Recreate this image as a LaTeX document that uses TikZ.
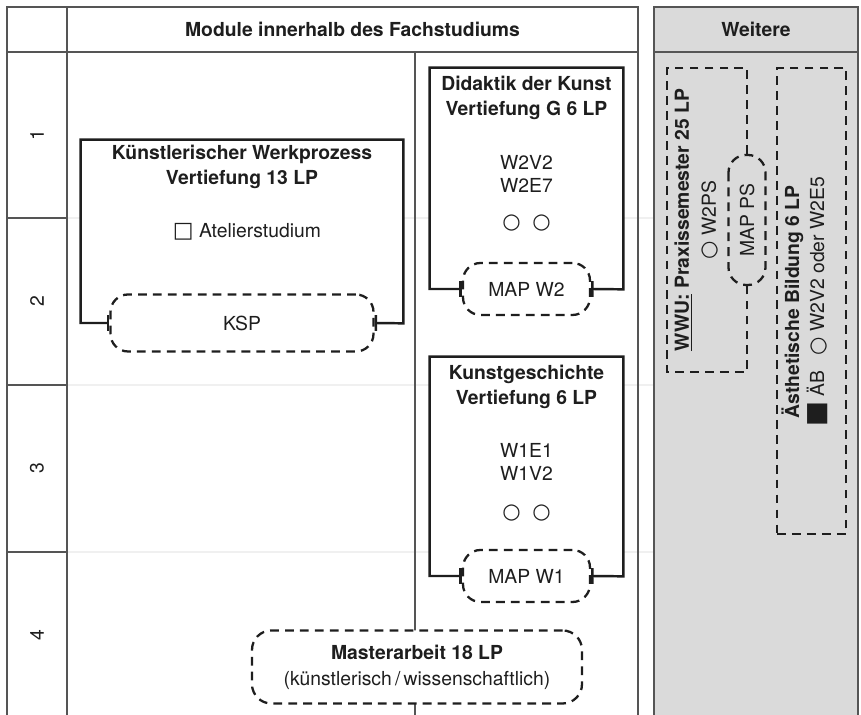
\documentclass[tikz,border=0pt]{standalone}
\usepackage{fontspec}
\setmainfont{TeX Gyre Heros}
\newfontfamily\dvsans{DejaVu Sans}
\usetikzlibrary{arrows.meta, positioning}
\definecolor{inkblack}{RGB}{30, 30, 30}
\definecolor{tabgray}{RGB}{85, 85, 85}
\definecolor{panelgray}{RGB}{218, 218, 218}
\definecolor{rowgray}{RGB}{240, 240, 240}

\tikzset{
  tabline/.style={draw=tabgray, line width=0.8pt},
  rowline/.style={draw=rowgray, line width=0.6pt},
  frame/.style={draw=inkblack, line width=1.4pt},
  dashbox/.style={draw=inkblack, line width=1.3pt, dash pattern=on 5pt off 3.5pt},
  mapnode/.style={dashbox, rounded corners=10pt, fill=white, inner sep=2pt, font=\fontsize{11}{14.8}\selectfont, text=inkblack},
  headtxt/.style={font=\fontsize{11}{14}\selectfont\bfseries, text=inkblack},
  titletxt/.style={font=\fontsize{11}{14.2}\selectfont\bfseries, align=center, text=inkblack},
  codetxt/.style={font=\fontsize{11}{13.1}\selectfont, align=center, text=inkblack},
  semtxt/.style={font=\fontsize{11}{13}\selectfont, rotate=90, text=inkblack},
  bartips/.style={{Bar[width=9pt]}-{Bar[width=9pt]}},
}
\newcommand{\kreis}{{\dvsans\fontsize{12}{12}\selectfont ○}}

\begin{document}
\begin{tikzpicture}
  \useasboundingbox (0,0) rectangle (17.22,14.30);

  % faint semester lines
  \foreach \y in {9.94, 6.60, 3.26}
    \draw[rowline] (1.34,\y) -- (13.08,\y);

  % Weitere (grey panel)
  \fill[panelgray] (13.08,0) rectangle (17.16,14.16);
  \draw[tabline] (13.08,0) -- (13.08,14.16) -- (17.16,14.16) -- (17.16,0);
  \draw[tabline] (13.08,13.26) -- (17.16,13.26);

  % table
  \draw[tabline] (0.14,0) -- (0.14,14.16) -- (12.76,14.16) -- (12.76,0);
  \draw[tabline] (0.14,13.26) -- (12.76,13.26);
  \draw[tabline] (1.34,0) -- (1.34,14.16);
  \draw[tabline] (8.30,0) -- (8.30,13.26);
  \foreach \y in {9.94, 6.60, 3.26}
    \draw[tabline] (0.14,\y) -- (1.34,\y);

  \foreach \n/\y in {1/11.60, 2/8.27, 3/4.93, 4/1.60}
    \node[semtxt] (sem\n) at (0.74,\y) {\n};

  \node[headtxt] (kopf) at (7.05,13.71) {Module innerhalb des Fachstudiums};
  \node[headtxt] (weitere) at (15.12,13.71) {Weitere};

  % Kuenstlerischer Werkprozess
  \node[fill=white, minimum width=6.44cm, minimum height=3.66cm] (kwp) at (4.84,9.67) {};
  \node[titletxt] (kwptitel) at (4.84,10.97) {Künstlerischer Werkprozess\\Vertiefung 13 LP};
  \node[font=\fontsize{11}{13}\selectfont, text=inkblack] (atelier) at (4.94,9.66) {{\dvsans\fontsize{12.5}{13}\selectfont □} Atelierstudium};
  \node[mapnode, minimum width=5.26cm, minimum height=1.14cm] (ksp) at (4.84,7.84) {KSP};
  \draw[frame, bartips] (ksp.west) -| (kwp.north west) -| (kwp.south east) -- (ksp.east);

  % Didaktik der Kunst
  \node[fill=white, minimum width=3.86cm, minimum height=4.42cm] (dida) at (10.53,10.73) {};
  \node[titletxt] (didatitel) at (10.53,12.35) {Didaktik der Kunst\\Vertiefung G 6 LP};
  \node[codetxt] (didacodes) at (10.53,10.83) {W2V2\\W2E7};
  \node[codetxt] (didakreise) at (10.53,9.84) {\kreis\hspace{0.6em}\kreis};
  \node[mapnode, minimum width=2.54cm, minimum height=1.04cm] (mapw2) at (10.53,8.52) {MAP W2};
  \draw[frame, bartips] (mapw2.west) -| (dida.north west) -| (dida.south east) -- (mapw2.east);

  % Kunstgeschichte
  \node[fill=white, minimum width=3.86cm, minimum height=4.38cm] (kuge) at (10.53,4.97) {};
  \node[titletxt] (kugetitel) at (10.53,6.57) {Kunstgeschichte\\Vertiefung 6 LP};
  \node[codetxt] (kugecodes) at (10.53,5.06) {W1E1\\W1V2};
  \node[codetxt] (kugekreise) at (10.53,4.04) {\kreis\hspace{0.6em}\kreis};
  \node[mapnode, minimum width=2.54cm, minimum height=1.04cm] (mapw1) at (10.53,2.78) {MAP W1};
  \draw[frame, bartips] (mapw1.west) -| (kuge.north west) -| (kuge.south east) -- (mapw1.east);

  % Masterarbeit
  \node[mapnode, rounded corners=11pt, minimum width=6.6cm, minimum height=1.46cm, align=center] (master) at (8.34,0.96) {\textbf{Masterarbeit 18 LP}\\(künstlerisch\,/\,wissenschaftlich)};

  % Praxissemester
  \node[mapnode, fill=panelgray, rotate=90, minimum width=2.6cm, minimum height=0.74cm] (mapps) at (14.94,9.9) {MAP PS};
  \draw[dashbox] (mapps.east) |- (13.34,12.94) -- (13.34,6.86) -| (mapps.west);
  \node[rotate=90, align=center, font=\fontsize{11}{15.4}\selectfont, text=inkblack] (praxis) at (13.93,9.9) {\textbf{\underline{WWU:} Praxissemester 25 LP}\\\kreis\ W2PS};

  % Aesthetische Bildung
  \node[dashbox, minimum width=1.38cm, minimum height=9.32cm] (aesth) at (16.23,8.28) {};
  \node[rotate=90, align=center, font=\fontsize{11}{14.2}\selectfont, text=inkblack] (aesthtxt) at (16.09,8.26) {\textbf{Ästhetische Bildung 6 LP}\\{\dvsans\fontsize{15}{12}\selectfont ■} ÄB\hspace{0.8em}\kreis\ W2V2 oder W2E5};
\end{tikzpicture}
\end{document}
